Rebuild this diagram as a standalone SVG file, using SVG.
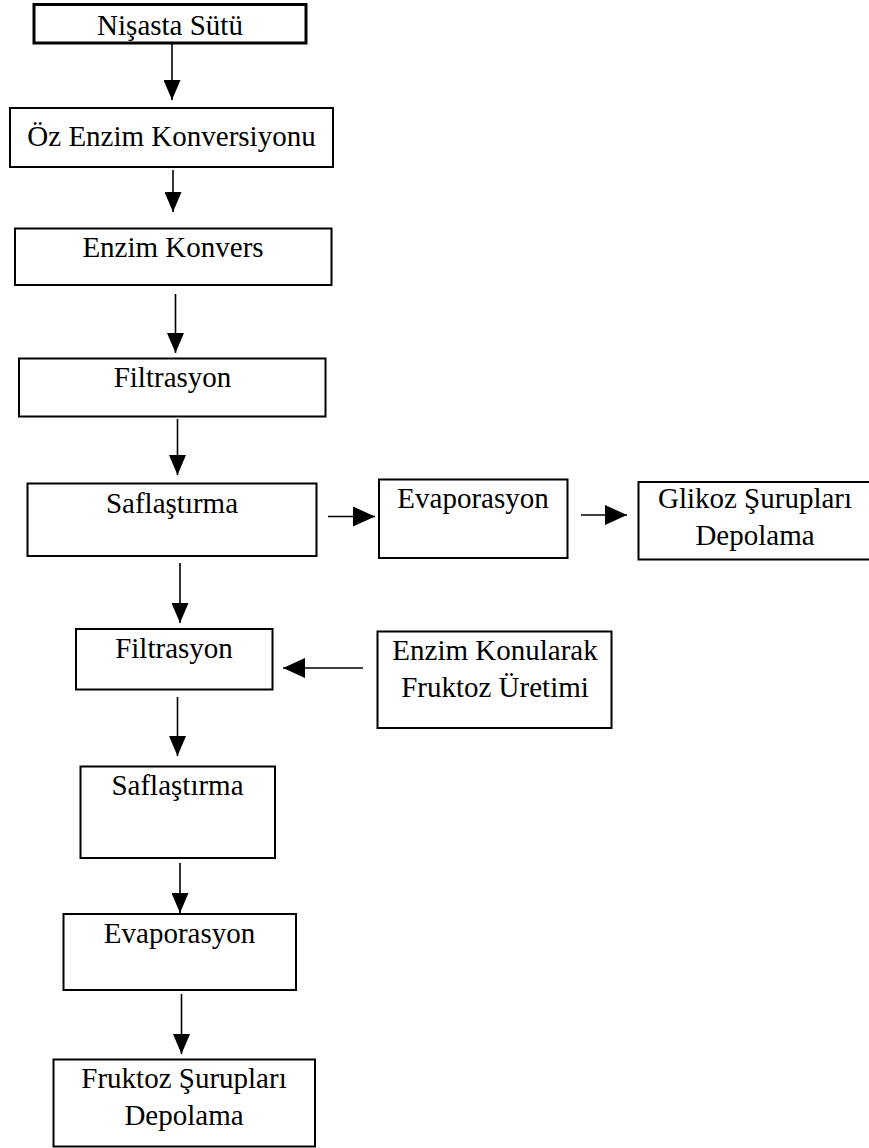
<svg xmlns="http://www.w3.org/2000/svg" width="869" height="1148" viewBox="0 0 869 1148">
<style>
  .box { fill: #ffffff; stroke: #000000; stroke-width: 2; }
  .thick { stroke-width: 3; }
  .lbl { font-family: "Liberation Serif", "Times New Roman", serif; font-size: 29px; fill: #000000; text-anchor: middle; }
  .conn { stroke: #000000; stroke-width: 1.6; fill: none; }
</style>
<defs>
  <marker id="av" markerUnits="userSpaceOnUse" markerWidth="21" markerHeight="17" refX="20" refY="8.5" orient="auto">
    <path d="M0,0 L20,8.5 L0,17 Z" fill="#000"/>
  </marker>
  <marker id="ah" markerUnits="userSpaceOnUse" markerWidth="23" markerHeight="21" refX="22" refY="10" orient="auto">
    <path d="M0,0 L22,10 L0,20 Z" fill="#000"/>
  </marker>
</defs>
<rect width="869" height="1148" fill="#ffffff"/>

<g id="connectors">
  <line class="conn" x1="172" y1="43" x2="172" y2="100" marker-end="url(#av)"/>
  <line class="conn" x1="173" y1="170" x2="173" y2="212" marker-end="url(#av)"/>
  <line class="conn" x1="175.5" y1="294" x2="175.5" y2="353" marker-end="url(#av)"/>
  <line class="conn" x1="177.5" y1="419" x2="177.5" y2="475" marker-end="url(#av)"/>
  <line class="conn" x1="328" y1="516.5" x2="375" y2="516.5" marker-end="url(#ah)"/>
  <line class="conn" x1="581" y1="515" x2="627" y2="515" marker-end="url(#ah)"/>
  <line class="conn" x1="180" y1="563" x2="180" y2="623" marker-end="url(#av)"/>
  <line class="conn" x1="363" y1="668" x2="283" y2="668" marker-end="url(#ah)"/>
  <line class="conn" x1="177.5" y1="697" x2="177.5" y2="756" marker-end="url(#av)"/>
  <line class="conn" x1="180" y1="863" x2="180" y2="913" marker-end="url(#av)"/>
  <line class="conn" x1="181.5" y1="994" x2="181.5" y2="1054" marker-end="url(#av)"/>
</g>

<g id="n1">
  <rect class="box thick" x="34" y="4.5" width="272" height="38.5"/>
  <text class="lbl" x="170" y="35">Nişasta Sütü</text>
</g>
<g id="n2">
  <rect class="box" x="10" y="108" width="323" height="59"/>
  <text class="lbl" x="171.5" y="146">Öz Enzim Konversiyonu</text>
</g>
<g id="n3">
  <rect class="box" x="15" y="228.5" width="316.5" height="56.5"/>
  <text class="lbl" x="173" y="256.5">Enzim Konvers</text>
</g>
<g id="n4">
  <rect class="box" x="19" y="358.5" width="306.5" height="58"/>
  <text class="lbl" x="172.5" y="386.5">Filtrasyon</text>
</g>
<g id="n5">
  <rect class="box" x="27.5" y="483.5" width="289" height="72.5"/>
  <text class="lbl" x="172" y="512.5">Saflaştırma</text>
</g>
<g id="n6">
  <rect class="box" x="379" y="479.5" width="188.5" height="78.5"/>
  <text class="lbl" x="473" y="508">Evaporasyon</text>
</g>
<g id="n7">
  <rect class="box" x="638.5" y="482" width="240" height="77.5"/>
  <text class="lbl" x="755" y="508">Glikoz Şurupları</text>
  <text class="lbl" x="755" y="545">Depolama</text>
</g>
<g id="n8">
  <rect class="box" x="76" y="629" width="196.5" height="60.5"/>
  <text class="lbl" x="174" y="658">Filtrasyon</text>
</g>
<g id="n9">
  <rect class="box" x="377.5" y="631.5" width="234" height="96.5"/>
  <text class="lbl" x="495" y="660">Enzim Konularak</text>
  <text class="lbl" x="495" y="696.5">Fruktoz Üretimi</text>
</g>
<g id="n10">
  <rect class="box" x="80.5" y="766.5" width="194.5" height="91.5"/>
  <text class="lbl" x="177.5" y="795">Saflaştırma</text>
</g>
<g id="n11">
  <rect class="box" x="63.5" y="914" width="232.5" height="76"/>
  <text class="lbl" x="179.5" y="942.5">Evaporasyon</text>
</g>
<g id="n12">
  <rect class="box" x="53.5" y="1059.5" width="261.5" height="87"/>
  <text class="lbl" x="184" y="1088">Fruktoz Şurupları</text>
  <text class="lbl" x="184" y="1125">Depolama</text>
</g>
</svg>
